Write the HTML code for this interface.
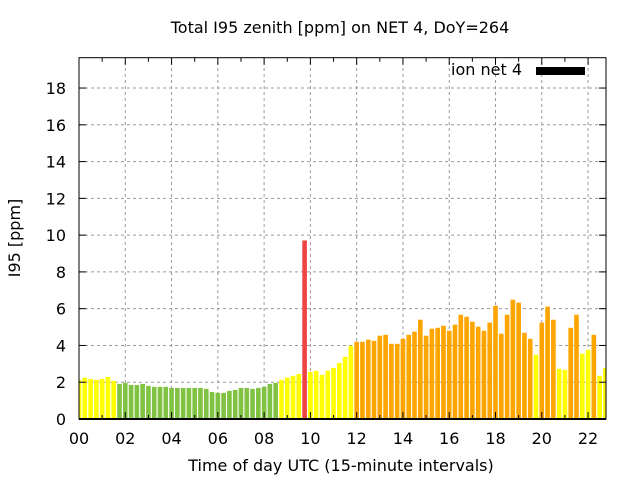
<!DOCTYPE html>
<html><head><meta charset="utf-8"><style>
body{margin:0;background:#fff}
svg text{font-family:"DejaVu Sans","Liberation Sans",sans-serif;font-size:16px;fill:#000}
</style></head><body>
<svg id="chart" width="640" height="480" xmlns="http://www.w3.org/2000/svg">
<rect width="640" height="480" fill="#fff"/>
<text x="340" y="33" text-anchor="middle">Total I95 zenith [ppm] on NET 4, DoY=264</text>
<g id="grid"></g>
<g id="bars"></g>
<g id="axes"></g>
<text x="341" y="471" text-anchor="middle">Time of day UTC (15-minute intervals)</text>
<text transform="translate(20,238) rotate(-90)" text-anchor="middle">I95 [ppm]</text>
<g>
<text x="522" y="75" text-anchor="end">ion net 4</text>
<rect x="536" y="67" width="49" height="8" fill="#000"/>
</g>
</svg>
<script>
const values = [2.13,2.25,2.18,2.13,2.18,2.29,2.07,1.91,1.96,1.85,1.85,1.91,1.8,1.75,1.75,1.75,1.69,1.69,1.69,1.69,1.69,1.69,1.64,1.47,1.42,1.42,1.53,1.58,1.69,1.69,1.64,1.69,1.75,1.91,1.96,2.13,2.25,2.35,2.45,9.71,2.56,2.62,2.4,2.62,2.78,3.05,3.38,3.98,4.2,4.2,4.31,4.25,4.53,4.58,4.09,4.09,4.36,4.58,4.75,5.4,4.53,4.91,4.96,5.07,4.8,5.13,5.67,5.56,5.29,5.02,4.8,5.24,6.16,4.64,5.67,6.49,6.33,4.69,4.36,3.49,5.24,6.11,5.4,2.73,2.67,4.96,5.67,3.55,3.76,4.58,2.35,2.78];
const xTicks = ["00","02","04","06","08","10","12","14","16","18","20","22"];
const yTicks = [0,2,4,6,8,10,12,14,16,18];
const X0=79,X1=606,Y0=419,Y1=57.7,XMAX=22.775,YMAX=19.65;
const sx=h=>X0+(X1-X0)*h/XMAX, sy=v=>Y0-(Y0-Y1)*v/YMAX;
const NS="http://www.w3.org/2000/svg";
function mk(tag,attrs,parent){const e=document.createElementNS(NS,tag);for(const k in attrs)e.setAttribute(k,attrs[k]);parent.appendChild(e);return e;}
const grid=document.getElementById('grid'),bars=document.getElementById('bars'),axes=document.getElementById('axes');
yTicks.forEach(v=>{
  const y=sy(v);
  if(v>0){const g=mk('line',{x1:X0,x2:X1,y1:y,y2:y,stroke:'#999','stroke-dasharray':'3,3','stroke-width':1},grid);
  
  }
  mk('line',{x1:X0,x2:X0+7,y1:y,y2:y,stroke:'#000'},axes);
  mk('line',{x1:X1,x2:X1-7,y1:y,y2:y,stroke:'#000'},axes);
  const t=mk('text',{x:X0-13,y:y+6,'text-anchor':'end'},axes);t.textContent=v;
  
  
});
for(let h=0;h<=22;h++){
  const x=sx(h);const major=h%2===0;
  if(major&&h>0){const g=mk('line',{x1:x,x2:x,y1:Y0,y2:Y1,stroke:'#999','stroke-dasharray':'3,3','stroke-width':1},grid);
  
  }
  const len=major?7:4;
  mk('line',{x1:x,x2:x,y1:Y0,y2:Y0-len,stroke:'#000'},axes);
  mk('line',{x1:x,x2:x,y1:Y1,y2:Y1+len,stroke:'#000'},axes);
}
xTicks.forEach((lab,i)=>{
  const t=mk('text',{x:sx(i*2),y:444,'text-anchor':'middle'},axes);t.textContent=lab;
  
  
});
function col(v){return v<2?'#80c241':v<4?'#ffff00':v<8?'#ffa500':'#ee4444';}
const bw=(sx(0.25)-sx(0))*0.8;
values.forEach((v,i)=>{
  const cx=sx(i*0.25);let l=cx-bw/2,r=cx+bw/2;l=Math.max(l,X0+0.5);r=Math.min(r,X1-0.5);
  const b=mk('rect',{x:l,y:sy(v),width:r-l,height:Y0-sy(v),fill:col(v)},bars);
  
  
});
const fr=mk('rect',{x:X0,y:Y1,width:X1-X0,height:Y0-Y1,fill:'none',stroke:'#000','stroke-width':1},axes);


const base=mk('line',{x1:X0,x2:X1,y1:Y0,y2:Y0,stroke:'#000','stroke-width':2},axes);


</script>
</body></html>
